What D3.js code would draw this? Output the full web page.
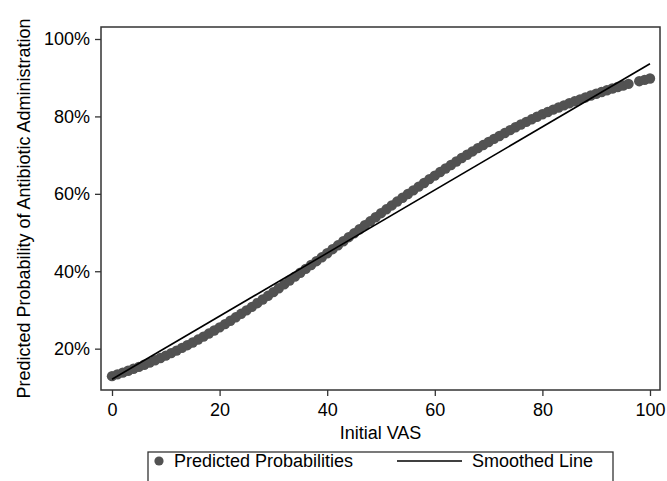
<!DOCTYPE html>
<html>
<head>
<meta charset="utf-8">
<script src="https://cdn.jsdelivr.net/npm/d3@7/dist/d3.min.js"></script>
<style>
  html, body { margin: 0; padding: 0; background: #fff; }
  svg { display: block; }
  text { font-family: "Liberation Sans", Arial, Helvetica, sans-serif; fill: #000; }
</style>
</head>
<body>
<svg id="chart" width="667" height="481"></svg>
<script>
// ---- data ----
const vas = [0,1,2,3,4,5,6,7,8,9,10,11,12,13,14,15,16,17,18,19,20,21,22,23,24,25,26,27,28,29,30,31,32,33,34,35,36,37,38,39,40,41,42,43,44,45,46,47,48,49,50,51,52,53,54,55,56,57,58,59,60,61,62,63,64,65,66,67,68,69,70,71,72,73,74,75,76,77,78,79,80,81,82,83,84,85,86,87,88,89,90,91,92,93,94,95,96,98,99,100];
const predicted = [12.9,13.35,13.8,14.3,14.8,15.3,15.85,16.4,17.0,17.6,18.2,18.85,19.5,20.2,20.9,21.6,22.35,23.1,23.9,24.7,25.5,26.35,27.2,28.1,29.0,29.9,30.8,31.75,32.7,33.65,34.6,35.6,36.6,37.6,38.6,39.6,40.6,41.6,42.6,43.6,44.65,45.7,46.7,47.75,48.8,49.8,50.85,51.9,52.9,53.95,55.0,56.0,57.0,58.0,59.0,59.95,60.9,61.85,62.8,63.8,64.7,65.65,66.55,67.45,68.35,69.25,70.1,70.95,71.8,72.6,73.4,74.2,74.95,75.7,76.45,77.2,77.9,78.6,79.25,79.9,80.55,81.15,81.75,82.3,82.85,83.4,83.9,84.4,84.9,85.4,85.85,86.3,86.75,87.2,87.6,88.0,88.4,89.1,89.45,89.8];
const smoothX = [0, 100];
const smoothY = [12.1, 93.6];
const xTicks = [0, 20, 40, 60, 80, 100];
const yTicks = [20, 40, 60, 80, 100];
const xTitle = "Initial VAS";
const yTitle = "Predicted Probability of Antibiotic Administration";
const legendLabels = ["Predicted Probabilities", "Smoothed Line"];

// ---- layout ----
const svg = d3.select("#chart");
const x = d3.scaleLinear().domain([-2.045, 101.86]).range([101, 660]);
const y = d3.scaleLinear().domain([9.32, 103.1]).range([390, 27]);
const frameCol = "#333";
const dotCol = "#525252";

// plot frame
svg.append("rect")
  .attr("x", x.range()[0]).attr("y", y.range()[1])
  .attr("width", x.range()[1] - x.range()[0])
  .attr("height", y.range()[0] - y.range()[1])
  .attr("fill", "none").attr("stroke", frameCol).attr("stroke-width", 1.5);

// axes
const gx = svg.append("g").attr("transform", `translate(0,${y.range()[0]})`)
  .call(d3.axisBottom(x).tickValues(xTicks).tickSize(6).tickPadding(7).tickFormat(d3.format("d")));
const gy = svg.append("g").attr("transform", `translate(${x.range()[0]},0)`)
  .call(d3.axisLeft(y).tickValues(yTicks).tickSize(6).tickPadding(5).tickFormat(d => d + "%"));
[gx, gy].forEach(g => {
  g.select(".domain").remove();
  g.selectAll(".tick line").attr("stroke", frameCol).attr("stroke-width", 1.3);
  g.selectAll(".tick text").attr("font-size", 18).attr("font-family", "'Liberation Sans', Arial, sans-serif").attr("fill", "#000");
});

// points
svg.append("g").selectAll("circle")
  .data(vas.map((v, i) => [v, predicted[i]]))
  .join("circle")
  .attr("cx", d => x(d[0])).attr("cy", d => y(d[1]))
  .attr("r", 5.2).attr("fill", dotCol);

// smoothed line
svg.append("path")
  .datum(smoothX.map((v, i) => [v, smoothY[i]]))
  .attr("d", d3.line().x(d => x(d[0])).y(d => y(d[1])))
  .attr("fill", "none").attr("stroke", "#000").attr("stroke-width", 1.6);

// titles
svg.append("text").attr("x", (x.range()[0] + x.range()[1]) / 2).attr("y", 438.5)
  .attr("text-anchor", "middle").attr("font-size", 18).text(xTitle);
svg.append("text").attr("transform", `translate(29.5,${(y.range()[0] + y.range()[1]) / 2}) rotate(-90)`)
  .attr("text-anchor", "middle").attr("font-size", 18).text(yTitle);

// legend
const lg = svg.append("g");
lg.append("rect").attr("x", 148).attr("y", 452).attr("width", 465).attr("height", 60)
  .attr("fill", "#fff").attr("stroke", frameCol).attr("stroke-width", 1.3);
lg.append("circle").attr("cx", 159).attr("cy", 461).attr("r", 4.6).attr("fill", dotCol);
lg.append("text").attr("x", 174).attr("y", 467).attr("font-size", 18).text(legendLabels[0]);
lg.append("line").attr("x1", 397).attr("x2", 462).attr("y1", 461).attr("y2", 461)
  .attr("stroke", "#000").attr("stroke-width", 1.6);
lg.append("text").attr("x", 472).attr("y", 467).attr("font-size", 18).text(legendLabels[1]);
</script>
</body>
</html>
